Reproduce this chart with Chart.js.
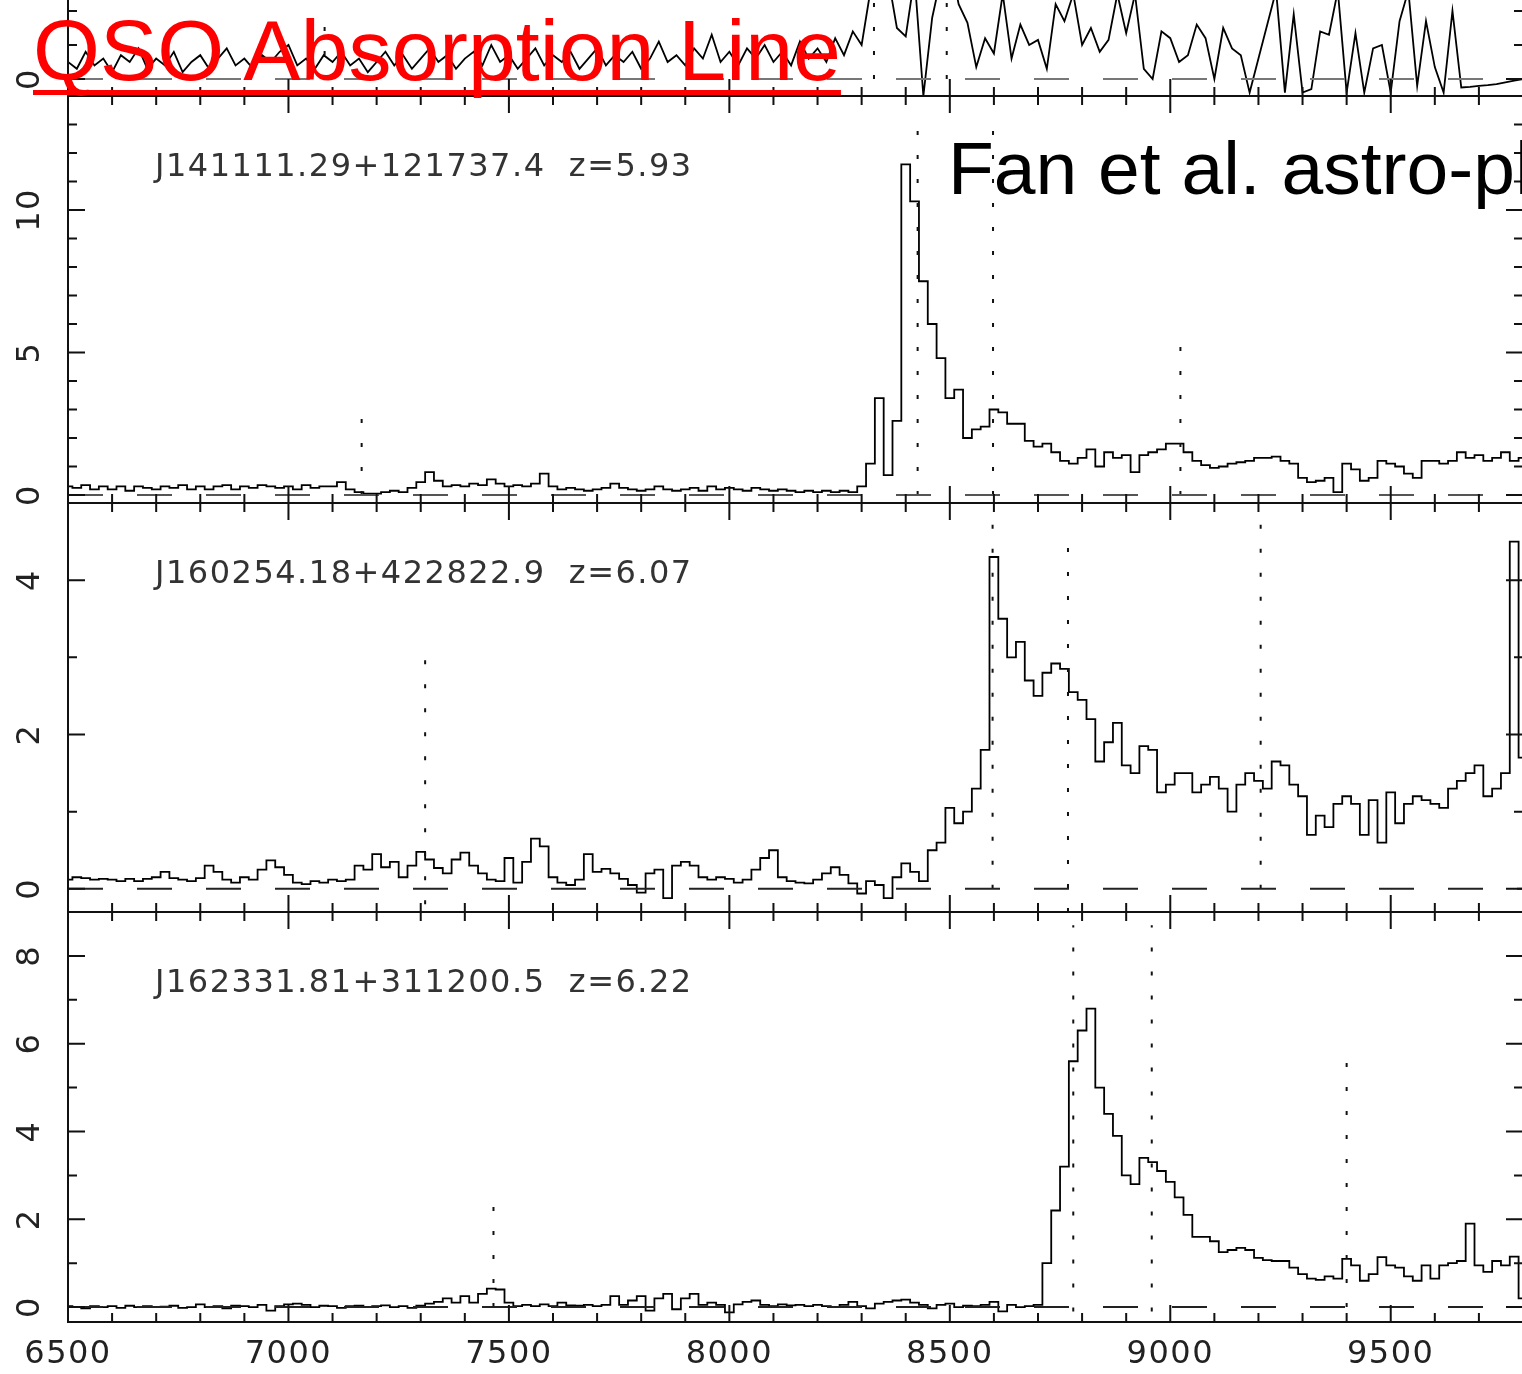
<!DOCTYPE html>
<html>
<head>
<meta charset="utf-8">
<script src="https://cdn.jsdelivr.net/npm/chart.js@4.4.1/dist/chart.umd.min.js"></script>
<style>
  html, body { margin: 0; padding: 0; background: #fff; overflow: hidden; width: 1522px; height: 1374px; }
  canvas { position: absolute; left: 0; }
  #title { position: absolute; left: 33px; top: 7px; z-index: 10; white-space: nowrap;
    font: 86px/86px "Liberation Sans", Arial, sans-serif; color: #f00;
    text-decoration: underline; text-decoration-thickness: 5px; text-underline-offset: 10px; text-decoration-skip-ink: none; }
  #ref { position: absolute; left: 948px; top: 131px; z-index: 10; white-space: nowrap;
    font: 75px/75px "Liberation Sans", Arial, sans-serif; color: #000; }
</style>
</head>
<body>
<canvas id="pTop" width="1524" height="402" style="top:-304px"></canvas>
<canvas id="p1411" width="1524" height="411" style="top:94px"></canvas>
<canvas id="p1602" width="1524" height="413" style="top:501px"></canvas>
<canvas id="p1623" width="1524" height="464" style="top:910px"></canvas>
<div id="title">QSO Absorption Line</div>
<div id="ref">Fan et al. astro-ph/0301135</div>
<script>
// wavelength sampling (Angstrom), 20 A bins from 6500 to 9800
const wlStart = 6500, wlStep = 20, nBins = 166;
const wavelength = Array.from({ length: nBins }, (_, i) => wlStart + i * wlStep);

// fluxes, one value per bin
const fluxTop = [
  0.5,0.3,0.8,0.4,0.6,0.2,0.7,0.5,0.9,0.3,
  0.6,0.4,0.8,0.2,0.5,0.7,0.3,0.6,0.9,0.4,
  0.6,0.3,0.7,0.5,0.8,1.0,0.4,0.6,0.3,0.7,
  0.5,0.8,0.4,0.6,0.2,0.5,0.8,0.4,0.7,0.3,
  0.6,0.9,0.5,0.7,0.3,0.6,0.8,0.4,1.0,0.5,
  0.7,0.3,0.6,0.9,0.4,0.7,0.5,0.8,0.3,0.6,
  0.9,0.4,0.7,0.5,0.8,0.3,0.6,1.1,0.5,0.7,
  0.4,0.9,0.6,1.3,0.5,0.8,0.4,0.9,0.6,1.0,
  0.5,0.8,0.4,1.1,0.6,0.9,0.5,1.2,0.7,1.4,
  1.0,2.6,3.5,3.0,1.5,1.25,3.0,-0.5,1.8,3.0,
  3.5,2.2,1.65,0.35,1.2,0.75,2.5,0.6,1.6,1.0,
  1.15,0.3,2.2,1.7,2.5,1.0,1.5,0.8,1.15,2.5,
  1.35,2.5,0.3,0.0,1.4,1.2,0.5,0.7,1.6,1.2,
  0.0,1.5,0.9,0.7,-0.4,0.6,1.6,2.6,-0.4,1.9,
  -0.4,-0.3,1.4,1.3,2.6,-0.4,1.35,-0.4,0.9,1.0,
  -0.4,1.7,2.6,-0.2,1.7,0.35,-0.4,2.0,-0.25,-0.23,
  -0.2,-0.18,-0.15,-0.1,-0.05,0.0
];
const fluxJ1411 = [
  0.3,0.25,0.35,0.2,0.3,0.2,0.3,0.15,0.3,0.25,
  0.2,0.3,0.25,0.35,0.2,0.3,0.2,0.3,0.35,0.2,
  0.3,0.25,0.35,0.3,0.25,0.3,0.2,0.35,0.25,0.3,
  0.3,0.45,0.2,0.1,0.05,0.05,0.1,0.15,0.1,0.25,
  0.45,0.8,0.5,0.3,0.35,0.3,0.4,0.35,0.55,0.4,
  0.3,0.35,0.3,0.4,0.75,0.3,0.2,0.25,0.2,0.15,
  0.2,0.25,0.4,0.25,0.2,0.15,0.2,0.3,0.2,0.15,
  0.2,0.25,0.15,0.3,0.2,0.25,0.2,0.15,0.25,0.2,
  0.15,0.2,0.15,0.1,0.15,0.1,0.15,0.1,0.15,0.1,
  0.3,1.1,3.4,0.7,2.6,11.6,10.3,7.5,6.0,4.8,
  3.4,3.7,2.0,2.3,2.4,3.0,2.9,2.5,2.5,1.9,
  1.7,1.8,1.5,1.2,1.1,1.3,1.6,1.0,1.5,1.3,
  1.4,0.8,1.4,1.5,1.6,1.8,1.8,1.5,1.2,1.05,
  0.95,1.0,1.1,1.15,1.2,1.3,1.3,1.35,1.2,1.1,
  0.6,0.45,0.5,0.6,0.1,1.1,0.9,0.5,0.6,1.2,
  1.1,1.0,0.75,0.6,1.2,1.2,1.1,1.2,1.5,1.3,
  1.4,1.2,1.3,1.5,1.2,1.3
];
const fluxJ1602 = [
  0.12,0.15,0.14,0.12,0.13,0.12,0.1,0.13,0.1,0.13,
  0.15,0.22,0.14,0.12,0.1,0.14,0.3,0.22,0.12,0.08,
  0.15,0.12,0.25,0.37,0.28,0.18,0.08,0.06,0.1,0.08,
  0.12,0.1,0.12,0.3,0.25,0.45,0.28,0.35,0.15,0.3,
  0.48,0.38,0.27,0.2,0.38,0.47,0.3,0.2,0.12,0.1,
  0.4,0.08,0.35,0.65,0.55,0.15,0.08,0.05,0.12,0.45,
  0.22,0.26,0.2,0.13,0.05,-0.05,0.2,0.25,-0.12,0.3,
  0.35,0.3,0.15,0.12,0.15,0.13,0.08,0.12,0.25,0.4,
  0.5,0.15,0.1,0.08,0.07,0.12,0.2,0.28,0.18,0.07,
  -0.06,0.1,0.05,-0.12,0.15,0.33,0.22,0.1,0.5,0.6,
  1.05,0.85,1.0,1.3,1.8,4.3,3.5,3.0,3.2,2.7,
  2.5,2.8,2.92,2.85,2.55,2.45,2.2,1.65,1.9,2.15,
  1.6,1.5,1.85,1.8,1.25,1.35,1.5,1.5,1.25,1.35,
  1.45,1.3,1.0,1.35,1.5,1.4,1.3,1.65,1.6,1.35,
  1.2,0.7,0.95,0.8,1.1,1.2,1.1,0.7,1.15,0.6,
  1.25,0.85,1.1,1.2,1.15,1.1,1.05,1.3,1.4,1.5,
  1.6,1.2,1.3,1.5,4.5,1.7
];
const fluxJ1623 = [
  0.02,0.0,-0.03,0.02,0.0,0.02,-0.02,0.03,0.0,0.02,
  0.0,0.01,0.03,-0.02,0.0,0.06,0.0,0.02,-0.03,0.03,
  0.02,0.0,0.05,-0.08,0.02,0.06,0.08,0.05,0.0,0.03,
  0.02,-0.02,0.02,0.03,0.0,0.02,0.04,0.0,0.02,-0.02,
  0.03,0.08,0.12,0.2,0.1,0.25,0.1,0.3,0.42,0.4,
  0.1,0.02,0.05,0.02,0.06,0.02,0.1,0.04,0.03,0.05,
  0.02,0.05,0.25,0.05,0.15,0.25,-0.08,0.2,0.3,-0.05,
  0.2,0.3,0.05,0.1,0.05,-0.12,0.06,0.12,0.15,0.05,
  0.02,0.06,0.04,0.05,0.02,0.05,0.02,0.0,0.05,0.12,
  0.02,-0.03,0.08,0.12,0.15,0.17,0.1,0.05,-0.03,0.05,
  0.08,0.0,0.03,0.02,0.05,0.12,-0.1,0.05,0.0,0.02,
  0.05,1.0,2.2,3.2,5.6,6.3,6.8,5.0,4.4,3.9,
  3.0,2.8,3.4,3.3,3.1,2.85,2.5,2.1,1.6,1.6,
  1.5,1.25,1.3,1.35,1.3,1.12,1.07,1.05,1.05,0.9,
  0.75,0.65,0.62,0.7,0.65,1.1,0.95,0.6,0.75,1.14,
  0.95,0.9,0.7,0.6,0.95,0.65,0.95,1.0,1.05,1.9,
  0.95,0.8,1.05,0.95,1.15,0.2
];

// emission line markers (dotted): wavelength, lower and upper flux
const linesTop = [7082, 8328, 8493];
const linesTopLo = [0, 0, 0];
const linesTopHi = [2.0, 12, 12];
const linesJ1411 = [7166, 8427, 8598, 9023];
const linesJ1411Lo = [0, 0, 0, 0];
const linesJ1411Hi = [2.7, 13.3, 13.4, 5.3];
const linesJ1602 = [7310, 8597, 8768, 9205];
const linesJ1602Lo = [-0.2, 0, -0.3, 0];
const linesJ1602Hi = [3.0, 4.77, 4.5, 4.73];
const linesJ1623 = [7465, 8780, 8958, 9400];
const linesJ1623Lo = [0, -0.1, -0.1, 0];
const linesJ1623Hi = [2.7, 8.7, 8.7, 5.9];

const qsoNames = ['', 'J141111.29+121737.4  z=5.93', 'J160254.18+422822.9  z=6.07', 'J162331.81+311200.5  z=6.22'];
const xTickStep = 100, xLabelStep = 500;

const isMult = (v, s) => Math.abs(v - Math.round(v / s) * s) < 1e-6;
const FONT = { family: '"DejaVu Sans", sans-serif', size: 32, weight: 400 };

const framePlugin = {
  id: 'frame',
  beforeUpdate(chart) { chart.ctx.letterSpacing = '1.5px'; },
  beforeDraw(chart) { chart.ctx.letterSpacing = '1.5px'; },
  afterDraw(chart, args, opts) {
    const { ctx, chartArea: a } = chart;
    const xs = chart.scales.x, ys = chart.scales.y;
    ctx.save();
    ctx.strokeStyle = '#111';
    ctx.lineWidth = 2;
    ctx.strokeRect(a.left, a.top, a.right - a.left, a.bottom - a.top);
    ctx.beginPath();
    xs.ticks.forEach(t => {
      const p = xs.getPixelForValue(t.value);
      const len = isMult(t.value, xLabelStep) ? 17 : 9;
      ctx.moveTo(p, a.top); ctx.lineTo(p, a.top + len);
      ctx.moveTo(p, a.bottom); ctx.lineTo(p, a.bottom - len);
    });
    ys.ticks.forEach(t => {
      const p = ys.getPixelForValue(t.value);
      const len = isMult(t.value, opts.labelStep) ? 17 : 9;
      ctx.moveTo(a.left, p); ctx.lineTo(a.left + len, p);
      ctx.moveTo(a.right, p); ctx.lineTo(a.right - len, p);
    });
    ctx.stroke();
    if (opts.name) {
      ctx.letterSpacing = '1.5px';
      ctx.fillStyle = '#333';
      ctx.font = '400 32px "DejaVu Sans", sans-serif';
      ctx.textBaseline = 'middle';
      ctx.textAlign = 'left';
      ctx.fillText(opts.name, a.left + 87, a.top + 72);
    }
    ctx.restore();
  }
};

function makePanel(id, flux, lines, linesLo, linesHi, cfg) {
  const datasets = [];
  datasets.push({
    data: [{ x: 6500, y: 0 }, { x: 9800, y: 0 }],
    borderColor: cfg.zeroColor, borderWidth: 2, borderDash: [35, 34],
    showLine: true, pointRadius: 0
  });
  lines.forEach((w, i) => datasets.push({
    data: [{ x: w, y: linesLo[i] }, { x: w, y: linesHi[i] }],
    borderColor: '#111', borderWidth: 2, borderDash: [4, 20],
    showLine: true, pointRadius: 0
  }));
  datasets.push({
    data: wavelength.map((w, i) => ({ x: w, y: flux[i] })),
    borderColor: '#000', borderWidth: 1.8, showLine: true, pointRadius: 0,
    stepped: cfg.stepped ? 'middle' : false, tension: 0
  });

  return new Chart(document.getElementById(id), {
    type: 'scatter',
    data: { datasets },
    options: {
      responsive: false,
      animation: false,
      events: [],
      layout: { padding: { top: cfg.padTop, bottom: cfg.padBottom, left: 0, right: 1 } },
      plugins: {
        legend: { display: false },
        tooltip: { enabled: false },
        frame: { name: cfg.name, labelStep: cfg.labelStep }
      },
      scales: {
        x: {
          type: 'linear', min: 6500, max: 9800,
          grid: { display: false, drawTicks: false },
          border: { display: false },
          ticks: {
            display: cfg.showX, stepSize: xTickStep, includeBounds: false, autoSkip: false,
            maxRotation: 0, minRotation: 0, padding: 13, color: '#222', font: FONT,
            callback: v => isMult(v, xLabelStep) ? String(v) : ''
          },
          afterFit: s => { s.height = cfg.xHeight; s.paddingLeft = 0; s.paddingRight = 0; }
        },
        y: {
          type: 'linear', min: cfg.yMin, max: cfg.yMax,
          grid: { display: false, drawTicks: false },
          border: { display: false },
          ticks: {
            stepSize: 1, includeBounds: false, autoSkip: false,
            minRotation: 90, maxRotation: 90, crossAlign: 'center',
            padding: cfg.yPad, color: '#222', font: FONT,
            callback: v => isMult(v, cfg.labelStep) ? String(v) : ''
          },
          afterFit: s => { s.width = 68; s.paddingTop = 0; s.paddingBottom = 0; }
        }
      }
    },
    plugins: [framePlugin]
  });
}

makePanel('pTop', fluxTop, linesTop, linesTopLo, linesTopHi,
  { yMin: -0.5, yMax: 11.26, labelStep: 5, yPad: 15, padTop: 0, padBottom: 2, xHeight: 0, showX: false,
    stepped: false, zeroColor: '#777', name: qsoNames[0] });
makePanel('p1411', fluxJ1411, linesJ1411, linesJ1411Lo, linesJ1411Hi,
  { yMin: -0.28, yMax: 14, labelStep: 5, yPad: 15, padTop: 2, padBottom: 2, xHeight: 0, showX: false,
    stepped: true, zeroColor: '#555', name: qsoNames[1] });
makePanel('p1602', fluxJ1602, linesJ1602, linesJ1602Lo, linesJ1602Hi,
  { yMin: -0.3, yMax: 5, labelStep: 2, yPad: 26, padTop: 2, padBottom: 2, xHeight: 0, showX: false,
    stepped: true, zeroColor: '#222', name: qsoNames[2] });
makePanel('p1623', fluxJ1623, linesJ1623, linesJ1623Lo, linesJ1623Hi,
  { yMin: -0.34, yMax: 9, labelStep: 2, yPad: 26, padTop: 2, padBottom: 0, xHeight: 52, showX: true,
    stepped: true, zeroColor: '#222', name: qsoNames[3] });
</script>
</body>
</html>
